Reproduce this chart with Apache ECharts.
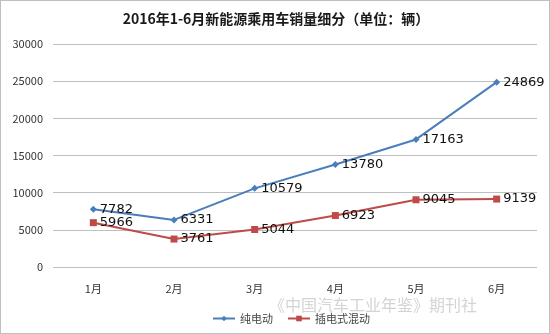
<!DOCTYPE html>
<html><head><meta charset="utf-8">
<script src="https://cdn.jsdelivr.net/npm/echarts@6/dist/echarts.min.js"></script>
<style>html,body{margin:0;padding:0;background:#fff}#c{width:550px;height:334px;box-sizing:border-box;border:1px solid #bfbfbf}</style>
</head><body><div id="c"></div>
<script>
const categories = ['1月','2月','3月','4月','5月','6月'];
const bevValues = [7782, 6331, 10579, 13780, 17163, 24869];
const phevValues = [5966, 3761, 5044, 6923, 9045, 9139];
const seriesNames = ['纯电动','插电式混动'];
const titleText = '2016年1-6月新能源乘用车销量细分（单位：辆）';
const watermark = '《中国汽车工业年鉴》期刊社';

const chart = echarts.init(document.getElementById('c'));
const font = '"Microsoft YaHei","Noto Sans CJK SC",sans-serif';
chart.setOption({
  animation: false,
  title: {text: titleText, left: 270, top: 6, textAlign: 'center',
    textStyle: {fontSize: 14, fontWeight: 'bold', color: '#1a1a1a', fontFamily: font}},
  graphic: [{type: 'text', left: 268, top: 296,
    style: {text: watermark, fontSize: 16, fill: '#d4d4d4', fontFamily: font}}],
  legend: {data: seriesNames, left: 206, top: 307, itemWidth: 22, itemHeight: 7, itemGap: 14,
    textStyle: {fontSize: 11, color: '#444', fontFamily: font}},
  grid: {left: 52, right: 12, top: 43, bottom: 66},
  xAxis: {type: 'category', data: categories, boundaryGap: true,
    axisLine: {show: false}, axisTick: {show: false},
    axisLabel: {fontSize: 11, color: '#333', margin: 16, fontFamily: font}},
  yAxis: {type: 'value', min: 0, max: 30000, interval: 5000,
    axisLabel: {fontSize: 11, color: '#333', margin: 10, fontFamily: font, formatter: v => String(v)},
    splitLine: {lineStyle: {color: '#bfbfbf', width: 1}}},
  series: [
    {name: seriesNames[0], type: 'line', data: bevValues, symbol: 'diamond', symbolSize: 7,
     itemStyle: {color: '#4a7ebb'}, lineStyle: {color: '#4a7ebb', width: 2},
     label: {show: true, position: 'right', distance: 3, fontSize: 13, color: '#111', fontFamily: '"DejaVu Sans", sans-serif'}},
    {name: seriesNames[1], type: 'line', data: phevValues, symbol: 'rect', symbolSize: 7,
     itemStyle: {color: '#be4b48'}, lineStyle: {color: '#be4b48', width: 2},
     label: {show: true, position: 'right', distance: 3, fontSize: 13, color: '#111', fontFamily: '"DejaVu Sans", sans-serif'}}
  ]
});
</script></body></html>
